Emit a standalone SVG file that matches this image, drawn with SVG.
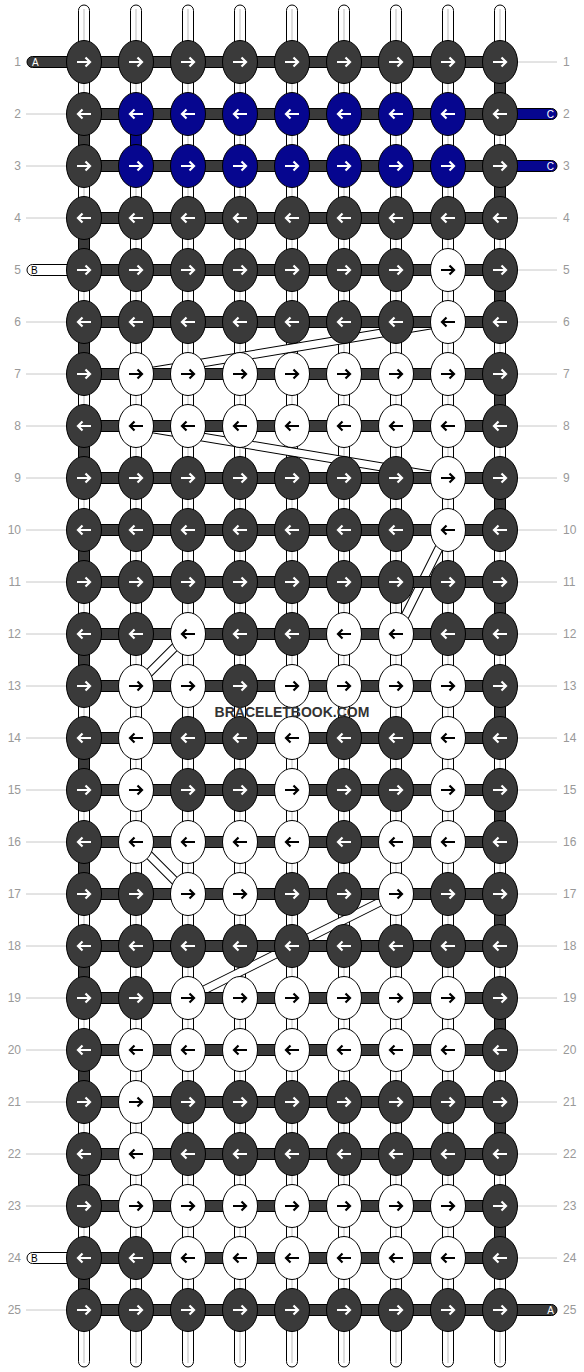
<svg xmlns="http://www.w3.org/2000/svg" xmlns:xlink="http://www.w3.org/1999/xlink" width="584" height="1372" viewBox="0 0 584 1372">
<style>
.kd{fill:#3a3a3a;stroke:#000;stroke-width:1}
.kw{fill:#fff;stroke:#000;stroke-width:1}
.kb{fill:#06068f;stroke:#000;stroke-width:1}
.aw{fill:none;stroke:#fff;stroke-width:2.2}
.ab{fill:none;stroke:#000;stroke-width:2.2}
.ws{fill:#fff;stroke:#000;stroke-width:1}
.wc{stroke:#bdbdbd;stroke-width:1}
.dk{fill:#3a3a3a;stroke:#000;stroke-width:1}
.bl{fill:#06068f;stroke:#000;stroke-width:1}
.bo{fill:none;stroke:#000;stroke-width:9}
.bi{fill:none;stroke:#fff;stroke-width:7}
.gl{stroke:#c8c8c8;stroke-width:1}
.num{font-family:"Liberation Sans",Arial,sans-serif;font-size:12px;fill:#999}
.sl{font-family:"Liberation Sans",Arial,sans-serif;font-size:10px}
.wm{font-family:"Liberation Sans",Arial,sans-serif;font-size:14px;font-weight:bold;fill:#333}
</style>
<defs>
<path id="ar" d="M-7,0H6M1.5,-4.5L6,0L1.5,4.5"/>
<path id="al" d="M7,0H-6M-1.5,-4.5L-6,0L-1.5,4.5"/>
<g id="dR"><ellipse rx="17.5" ry="21.5" class="kd"/><use href="#ar" class="aw"/></g>
<g id="dL"><ellipse rx="17.5" ry="21.5" class="kd"/><use href="#al" class="aw"/></g>
<g id="wR"><ellipse rx="17.5" ry="21.5" class="kw"/><use href="#ar" class="ab"/></g>
<g id="wL"><ellipse rx="17.5" ry="21.5" class="kw"/><use href="#al" class="ab"/></g>
<g id="bR"><ellipse rx="17.5" ry="21.5" class="kb"/><use href="#ar" class="aw"/></g>
<g id="bL"><ellipse rx="17.5" ry="21.5" class="kb"/><use href="#al" class="aw"/></g>
</defs>
<rect width="584" height="1372" fill="#fff"/>

<g id="labels">
<g class="gl">
<line x1="26" y1="114" x2="67" y2="114"/><line x1="26" y1="166" x2="67" y2="166"/><line x1="26" y1="218" x2="67" y2="218"/>
<line x1="26" y1="322" x2="67" y2="322"/><line x1="26" y1="374" x2="67" y2="374"/><line x1="26" y1="426" x2="67" y2="426"/>
<line x1="26" y1="478" x2="67" y2="478"/><line x1="26" y1="530" x2="67" y2="530"/><line x1="26" y1="582" x2="67" y2="582"/>
<line x1="26" y1="634" x2="67" y2="634"/><line x1="26" y1="686" x2="67" y2="686"/><line x1="26" y1="738" x2="67" y2="738"/>
<line x1="26" y1="790" x2="67" y2="790"/><line x1="26" y1="842" x2="67" y2="842"/><line x1="26" y1="894" x2="67" y2="894"/>
<line x1="26" y1="946" x2="67" y2="946"/><line x1="26" y1="998" x2="67" y2="998"/><line x1="26" y1="1050" x2="67" y2="1050"/>
<line x1="26" y1="1102" x2="67" y2="1102"/><line x1="26" y1="1154" x2="67" y2="1154"/><line x1="26" y1="1206" x2="67" y2="1206"/>
<line x1="26" y1="1310" x2="67" y2="1310"/>
<line x1="517" y1="62" x2="557" y2="62"/><line x1="517" y1="218" x2="557" y2="218"/><line x1="517" y1="270" x2="557" y2="270"/>
<line x1="517" y1="322" x2="557" y2="322"/><line x1="517" y1="374" x2="557" y2="374"/><line x1="517" y1="426" x2="557" y2="426"/>
<line x1="517" y1="478" x2="557" y2="478"/><line x1="517" y1="530" x2="557" y2="530"/><line x1="517" y1="582" x2="557" y2="582"/>
<line x1="517" y1="634" x2="557" y2="634"/><line x1="517" y1="686" x2="557" y2="686"/><line x1="517" y1="738" x2="557" y2="738"/>
<line x1="517" y1="790" x2="557" y2="790"/><line x1="517" y1="842" x2="557" y2="842"/><line x1="517" y1="894" x2="557" y2="894"/>
<line x1="517" y1="946" x2="557" y2="946"/><line x1="517" y1="998" x2="557" y2="998"/><line x1="517" y1="1050" x2="557" y2="1050"/>
<line x1="517" y1="1102" x2="557" y2="1102"/><line x1="517" y1="1154" x2="557" y2="1154"/><line x1="517" y1="1206" x2="557" y2="1206"/>
<line x1="517" y1="1258" x2="557" y2="1258"/>
</g>
<g class="num" text-anchor="end">
<text x="21" y="66">1</text><text x="21" y="118">2</text><text x="21" y="170">3</text><text x="21" y="222">4</text><text x="21" y="274">5</text>
<text x="21" y="326">6</text><text x="21" y="378">7</text><text x="21" y="430">8</text><text x="21" y="482">9</text><text x="21" y="534">10</text>
<text x="21" y="586">11</text><text x="21" y="638">12</text><text x="21" y="690">13</text><text x="21" y="742">14</text><text x="21" y="794">15</text>
<text x="21" y="846">16</text><text x="21" y="898">17</text><text x="21" y="950">18</text><text x="21" y="1002">19</text><text x="21" y="1054">20</text>
<text x="21" y="1106">21</text><text x="21" y="1158">22</text><text x="21" y="1210">23</text><text x="21" y="1262">24</text><text x="21" y="1314">25</text>
</g>
<g class="num">
<text x="563" y="66">1</text><text x="563" y="118">2</text><text x="563" y="170">3</text><text x="563" y="222">4</text><text x="563" y="274">5</text>
<text x="563" y="326">6</text><text x="563" y="378">7</text><text x="563" y="430">8</text><text x="563" y="482">9</text><text x="563" y="534">10</text>
<text x="563" y="586">11</text><text x="563" y="638">12</text><text x="563" y="690">13</text><text x="563" y="742">14</text><text x="563" y="794">15</text>
<text x="563" y="846">16</text><text x="563" y="898">17</text><text x="563" y="950">18</text><text x="563" y="1002">19</text><text x="563" y="1054">20</text>
<text x="563" y="1106">21</text><text x="563" y="1158">22</text><text x="563" y="1210">23</text><text x="563" y="1262">24</text><text x="563" y="1314">25</text>
</g>
</g>

<g id="connectors">
<g id="vertical-strings">
<rect class="ws" x="78.5" y="5" width="11" height="1362" rx="5.5"/><line class="wc" x1="84" y1="9" x2="84" y2="1363"/>
<rect class="ws" x="130.5" y="5" width="11" height="1362" rx="5.5"/><line class="wc" x1="136" y1="9" x2="136" y2="1363"/>
<rect class="ws" x="182.5" y="5" width="11" height="1362" rx="5.5"/><line class="wc" x1="188" y1="9" x2="188" y2="1363"/>
<rect class="ws" x="234.5" y="5" width="11" height="1362" rx="5.5"/><line class="wc" x1="240" y1="9" x2="240" y2="1363"/>
<rect class="ws" x="286.5" y="5" width="11" height="1362" rx="5.5"/><line class="wc" x1="292" y1="9" x2="292" y2="1363"/>
<rect class="ws" x="338.5" y="5" width="11" height="1362" rx="5.5"/><line class="wc" x1="344" y1="9" x2="344" y2="1363"/>
<rect class="ws" x="390.5" y="5" width="11" height="1362" rx="5.5"/><line class="wc" x1="396" y1="9" x2="396" y2="1363"/>
<rect class="ws" x="442.5" y="5" width="11" height="1362" rx="5.5"/><line class="wc" x1="448" y1="9" x2="448" y2="1363"/>
<rect class="ws" x="494.5" y="5" width="11" height="1362" rx="5.5"/><line class="wc" x1="500" y1="9" x2="500" y2="1363"/>
</g>
<g id="turns">
<rect class="dk" x="494.5" y="62" width="11" height="52"/><rect class="dk" x="494.5" y="166" width="11" height="52"/>
<rect class="dk" x="494.5" y="270" width="11" height="52"/><rect class="dk" x="494.5" y="374" width="11" height="52"/>
<rect class="dk" x="494.5" y="478" width="11" height="52"/><rect class="dk" x="494.5" y="582" width="11" height="52"/>
<rect class="dk" x="494.5" y="686" width="11" height="52"/><rect class="dk" x="494.5" y="790" width="11" height="52"/>
<rect class="dk" x="494.5" y="894" width="11" height="52"/><rect class="dk" x="494.5" y="998" width="11" height="52"/>
<rect class="dk" x="494.5" y="1102" width="11" height="52"/><rect class="dk" x="494.5" y="1206" width="11" height="52"/>
<rect class="dk" x="78.5" y="114" width="11" height="52"/><rect class="dk" x="78.5" y="218" width="11" height="52"/>
<rect class="dk" x="78.5" y="322" width="11" height="52"/><rect class="dk" x="78.5" y="426" width="11" height="52"/>
<rect class="dk" x="78.5" y="530" width="11" height="52"/><rect class="dk" x="78.5" y="634" width="11" height="52"/>
<rect class="dk" x="78.5" y="738" width="11" height="52"/><rect class="dk" x="78.5" y="842" width="11" height="52"/>
<rect class="dk" x="78.5" y="946" width="11" height="52"/><rect class="dk" x="78.5" y="1050" width="11" height="52"/>
<rect class="dk" x="78.5" y="1154" width="11" height="52"/><rect class="dk" x="78.5" y="1258" width="11" height="52"/>
<rect class="bl" x="130.5" y="114" width="11" height="52"/>
</g>
<g id="diagonals">
<path class="bo" d="M448,322L136,374M136,426L448,478M448,530L396,634M188,634L136,686M136,842L188,894M396,894L188,998"/>
<path class="bi" d="M448,322L136,374M136,426L448,478M448,530L396,634M188,634L136,686M136,842L188,894M396,894L188,998"/>
</g>
<g id="rows">
<rect class="dk" x="84" y="56.5" width="416" height="11"/><rect class="dk" x="84" y="108.5" width="416" height="11"/>
<rect class="dk" x="84" y="160.5" width="416" height="11"/><rect class="dk" x="84" y="212.5" width="416" height="11"/>
<rect class="dk" x="84" y="264.5" width="416" height="11"/><rect class="dk" x="84" y="316.5" width="416" height="11"/>
<rect class="dk" x="84" y="368.5" width="416" height="11"/><rect class="dk" x="84" y="420.5" width="416" height="11"/>
<rect class="dk" x="84" y="472.5" width="416" height="11"/><rect class="dk" x="84" y="524.5" width="416" height="11"/>
<rect class="dk" x="84" y="576.5" width="416" height="11"/><rect class="dk" x="84" y="628.5" width="416" height="11"/>
<rect class="dk" x="84" y="680.5" width="416" height="11"/><rect class="dk" x="84" y="732.5" width="416" height="11"/>
<rect class="dk" x="84" y="784.5" width="416" height="11"/><rect class="dk" x="84" y="836.5" width="416" height="11"/>
<rect class="dk" x="84" y="888.5" width="416" height="11"/><rect class="dk" x="84" y="940.5" width="416" height="11"/>
<rect class="dk" x="84" y="992.5" width="416" height="11"/><rect class="dk" x="84" y="1044.5" width="416" height="11"/>
<rect class="dk" x="84" y="1096.5" width="416" height="11"/><rect class="dk" x="84" y="1148.5" width="416" height="11"/>
<rect class="dk" x="84" y="1200.5" width="416" height="11"/><rect class="dk" x="84" y="1252.5" width="416" height="11"/>
<rect class="dk" x="84" y="1304.5" width="416" height="11"/>
</g>
<g id="ends">
<rect class="dk" x="27" y="56.5" width="60" height="11" rx="5.5"/><text class="sl" x="32" y="66" fill="#fff">A</text>
<rect class="ws" x="27" y="264.5" width="60" height="11" rx="5.5"/><text class="sl" x="31" y="274" fill="#000">B</text>
<rect class="ws" x="27" y="1252.5" width="60" height="11" rx="5.5"/><text class="sl" x="31" y="1262" fill="#000">B</text>
<rect class="bl" x="497" y="108.5" width="60" height="11" rx="5.5"/><text class="sl" x="554" y="118" fill="#fff" text-anchor="end">C</text>
<rect class="bl" x="497" y="160.5" width="60" height="11" rx="5.5"/><text class="sl" x="554" y="170" fill="#fff" text-anchor="end">C</text>
<rect class="dk" x="497" y="1304.5" width="60" height="11" rx="5.5"/><text class="sl" x="554" y="1314" fill="#fff" text-anchor="end">A</text>
</g>
</g>

<g id="knots">
<g id="r1"><use href="#dR" x="84" y="62"/><use href="#dR" x="136" y="62"/><use href="#dR" x="188" y="62"/><use href="#dR" x="240" y="62"/><use href="#dR" x="292" y="62"/><use href="#dR" x="344" y="62"/><use href="#dR" x="396" y="62"/><use href="#dR" x="448" y="62"/><use href="#dR" x="500" y="62"/></g>
<g id="r2"><use href="#dL" x="84" y="114"/><use href="#bL" x="136" y="114"/><use href="#bL" x="188" y="114"/><use href="#bL" x="240" y="114"/><use href="#bL" x="292" y="114"/><use href="#bL" x="344" y="114"/><use href="#bL" x="396" y="114"/><use href="#bL" x="448" y="114"/><use href="#dL" x="500" y="114"/></g>
<g id="r3"><use href="#dR" x="84" y="166"/><use href="#bR" x="136" y="166"/><use href="#bR" x="188" y="166"/><use href="#bR" x="240" y="166"/><use href="#bR" x="292" y="166"/><use href="#bR" x="344" y="166"/><use href="#bR" x="396" y="166"/><use href="#bR" x="448" y="166"/><use href="#dR" x="500" y="166"/></g>
<g id="r4"><use href="#dL" x="84" y="218"/><use href="#dL" x="136" y="218"/><use href="#dL" x="188" y="218"/><use href="#dL" x="240" y="218"/><use href="#dL" x="292" y="218"/><use href="#dL" x="344" y="218"/><use href="#dL" x="396" y="218"/><use href="#dL" x="448" y="218"/><use href="#dL" x="500" y="218"/></g>
<g id="r5"><use href="#dR" x="84" y="270"/><use href="#dR" x="136" y="270"/><use href="#dR" x="188" y="270"/><use href="#dR" x="240" y="270"/><use href="#dR" x="292" y="270"/><use href="#dR" x="344" y="270"/><use href="#dR" x="396" y="270"/><use href="#wR" x="448" y="270"/><use href="#dR" x="500" y="270"/></g>
<g id="r6"><use href="#dL" x="84" y="322"/><use href="#dL" x="136" y="322"/><use href="#dL" x="188" y="322"/><use href="#dL" x="240" y="322"/><use href="#dL" x="292" y="322"/><use href="#dL" x="344" y="322"/><use href="#dL" x="396" y="322"/><use href="#wL" x="448" y="322"/><use href="#dL" x="500" y="322"/></g>
<g id="r7"><use href="#dR" x="84" y="374"/><use href="#wR" x="136" y="374"/><use href="#wR" x="188" y="374"/><use href="#wR" x="240" y="374"/><use href="#wR" x="292" y="374"/><use href="#wR" x="344" y="374"/><use href="#wR" x="396" y="374"/><use href="#wR" x="448" y="374"/><use href="#dR" x="500" y="374"/></g>
<g id="r8"><use href="#dL" x="84" y="426"/><use href="#wL" x="136" y="426"/><use href="#wL" x="188" y="426"/><use href="#wL" x="240" y="426"/><use href="#wL" x="292" y="426"/><use href="#wL" x="344" y="426"/><use href="#wL" x="396" y="426"/><use href="#wL" x="448" y="426"/><use href="#dL" x="500" y="426"/></g>
<g id="r9"><use href="#dR" x="84" y="478"/><use href="#dR" x="136" y="478"/><use href="#dR" x="188" y="478"/><use href="#dR" x="240" y="478"/><use href="#dR" x="292" y="478"/><use href="#dR" x="344" y="478"/><use href="#dR" x="396" y="478"/><use href="#wR" x="448" y="478"/><use href="#dR" x="500" y="478"/></g>
<g id="r10"><use href="#dL" x="84" y="530"/><use href="#dL" x="136" y="530"/><use href="#dL" x="188" y="530"/><use href="#dL" x="240" y="530"/><use href="#dL" x="292" y="530"/><use href="#dL" x="344" y="530"/><use href="#dL" x="396" y="530"/><use href="#wL" x="448" y="530"/><use href="#dL" x="500" y="530"/></g>
<g id="r11"><use href="#dR" x="84" y="582"/><use href="#dR" x="136" y="582"/><use href="#dR" x="188" y="582"/><use href="#dR" x="240" y="582"/><use href="#dR" x="292" y="582"/><use href="#dR" x="344" y="582"/><use href="#dR" x="396" y="582"/><use href="#dR" x="448" y="582"/><use href="#dR" x="500" y="582"/></g>
<g id="r12"><use href="#dL" x="84" y="634"/><use href="#dL" x="136" y="634"/><use href="#wL" x="188" y="634"/><use href="#dL" x="240" y="634"/><use href="#dL" x="292" y="634"/><use href="#wL" x="344" y="634"/><use href="#wL" x="396" y="634"/><use href="#dL" x="448" y="634"/><use href="#dL" x="500" y="634"/></g>
<g id="r13"><use href="#dR" x="84" y="686"/><use href="#wR" x="136" y="686"/><use href="#wR" x="188" y="686"/><use href="#dR" x="240" y="686"/><use href="#wR" x="292" y="686"/><use href="#wR" x="344" y="686"/><use href="#wR" x="396" y="686"/><use href="#wR" x="448" y="686"/><use href="#dR" x="500" y="686"/></g>
<g id="r14"><use href="#dL" x="84" y="738"/><use href="#wL" x="136" y="738"/><use href="#dL" x="188" y="738"/><use href="#dL" x="240" y="738"/><use href="#wL" x="292" y="738"/><use href="#dL" x="344" y="738"/><use href="#dL" x="396" y="738"/><use href="#wL" x="448" y="738"/><use href="#dL" x="500" y="738"/></g>
<g id="r15"><use href="#dR" x="84" y="790"/><use href="#wR" x="136" y="790"/><use href="#dR" x="188" y="790"/><use href="#dR" x="240" y="790"/><use href="#wR" x="292" y="790"/><use href="#dR" x="344" y="790"/><use href="#dR" x="396" y="790"/><use href="#wR" x="448" y="790"/><use href="#dR" x="500" y="790"/></g>
<g id="r16"><use href="#dL" x="84" y="842"/><use href="#wL" x="136" y="842"/><use href="#wL" x="188" y="842"/><use href="#wL" x="240" y="842"/><use href="#wL" x="292" y="842"/><use href="#dL" x="344" y="842"/><use href="#wL" x="396" y="842"/><use href="#wL" x="448" y="842"/><use href="#dL" x="500" y="842"/></g>
<g id="r17"><use href="#dR" x="84" y="894"/><use href="#dR" x="136" y="894"/><use href="#wR" x="188" y="894"/><use href="#wR" x="240" y="894"/><use href="#dR" x="292" y="894"/><use href="#dR" x="344" y="894"/><use href="#wR" x="396" y="894"/><use href="#dR" x="448" y="894"/><use href="#dR" x="500" y="894"/></g>
<g id="r18"><use href="#dL" x="84" y="946"/><use href="#dL" x="136" y="946"/><use href="#dL" x="188" y="946"/><use href="#dL" x="240" y="946"/><use href="#dL" x="292" y="946"/><use href="#dL" x="344" y="946"/><use href="#dL" x="396" y="946"/><use href="#dL" x="448" y="946"/><use href="#dL" x="500" y="946"/></g>
<g id="r19"><use href="#dR" x="84" y="998"/><use href="#dR" x="136" y="998"/><use href="#wR" x="188" y="998"/><use href="#wR" x="240" y="998"/><use href="#wR" x="292" y="998"/><use href="#wR" x="344" y="998"/><use href="#wR" x="396" y="998"/><use href="#wR" x="448" y="998"/><use href="#dR" x="500" y="998"/></g>
<g id="r20"><use href="#dL" x="84" y="1050"/><use href="#wL" x="136" y="1050"/><use href="#wL" x="188" y="1050"/><use href="#wL" x="240" y="1050"/><use href="#wL" x="292" y="1050"/><use href="#wL" x="344" y="1050"/><use href="#wL" x="396" y="1050"/><use href="#wL" x="448" y="1050"/><use href="#dL" x="500" y="1050"/></g>
<g id="r21"><use href="#dR" x="84" y="1102"/><use href="#wR" x="136" y="1102"/><use href="#dR" x="188" y="1102"/><use href="#dR" x="240" y="1102"/><use href="#dR" x="292" y="1102"/><use href="#dR" x="344" y="1102"/><use href="#dR" x="396" y="1102"/><use href="#dR" x="448" y="1102"/><use href="#dR" x="500" y="1102"/></g>
<g id="r22"><use href="#dL" x="84" y="1154"/><use href="#wL" x="136" y="1154"/><use href="#dL" x="188" y="1154"/><use href="#dL" x="240" y="1154"/><use href="#dL" x="292" y="1154"/><use href="#dL" x="344" y="1154"/><use href="#dL" x="396" y="1154"/><use href="#dL" x="448" y="1154"/><use href="#dL" x="500" y="1154"/></g>
<g id="r23"><use href="#dR" x="84" y="1206"/><use href="#wR" x="136" y="1206"/><use href="#wR" x="188" y="1206"/><use href="#wR" x="240" y="1206"/><use href="#wR" x="292" y="1206"/><use href="#wR" x="344" y="1206"/><use href="#wR" x="396" y="1206"/><use href="#wR" x="448" y="1206"/><use href="#dR" x="500" y="1206"/></g>
<g id="r24"><use href="#dL" x="84" y="1258"/><use href="#dL" x="136" y="1258"/><use href="#wL" x="188" y="1258"/><use href="#wL" x="240" y="1258"/><use href="#wL" x="292" y="1258"/><use href="#wL" x="344" y="1258"/><use href="#wL" x="396" y="1258"/><use href="#wL" x="448" y="1258"/><use href="#dL" x="500" y="1258"/></g>
<g id="r25"><use href="#dR" x="84" y="1310"/><use href="#dR" x="136" y="1310"/><use href="#dR" x="188" y="1310"/><use href="#dR" x="240" y="1310"/><use href="#dR" x="292" y="1310"/><use href="#dR" x="344" y="1310"/><use href="#dR" x="396" y="1310"/><use href="#dR" x="448" y="1310"/><use href="#dR" x="500" y="1310"/></g>
</g>

<text class="wm" x="292" y="717" text-anchor="middle">BRACELETBOOK.COM</text>
</svg>
